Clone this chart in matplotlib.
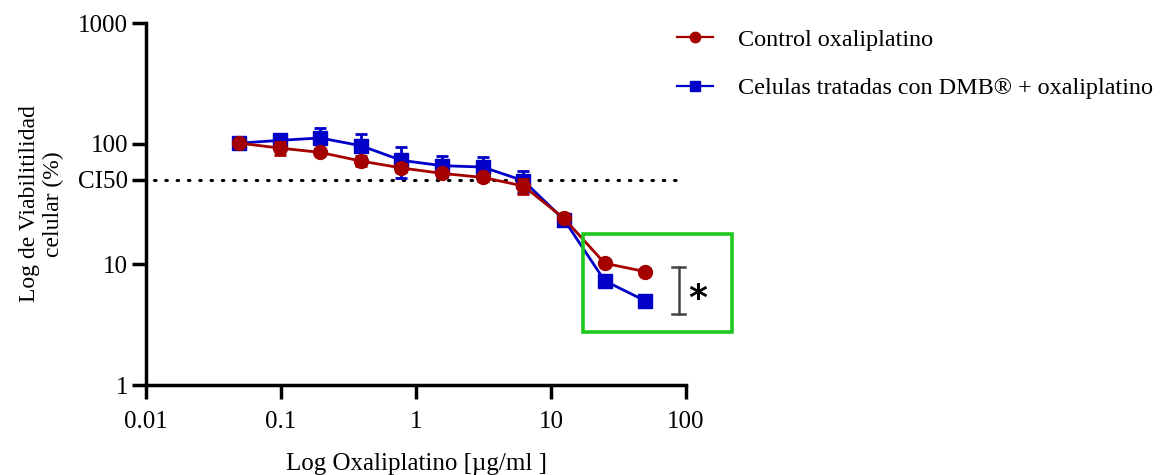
import matplotlib
matplotlib.use("Agg")
import matplotlib.pyplot as plt
from matplotlib.patches import Rectangle
from matplotlib.lines import Line2D

plt.rcParams['font.family'] = ['Liberation Serif', 'DejaVu Serif']

conc = [0.0488, 0.0977, 0.195, 0.39, 0.78, 1.56, 3.125, 6.25, 12.5, 25, 50]
control = [101, 92, 84.7, 71.8, 62.9, 56.7, 52.5, 44.6, 24.0, 10.2, 8.7]
control_err = [1, 12, 3, 7, 5, 3, 3, 6, 1, 0.4, 0.3]
dmb = [101, 106.5, 111.5, 96.2, 72.7, 65.7, 64.0, 49.3, 23.4, 7.3, 4.98]
dmb_err = [2, 1.5, 23, 24, 21, 13, 14, 10, 1, 0.3, 0.3]
ytick_vals = [1, 10, 50, 100, 1000]
ytick_labels = ['1', '10', 'CI50', '100', '1000']
xtick_vals = [0.01, 0.1, 1, 10, 100]
xtick_labels = ['0.01', '0.1', '1', '10', '100']
series_labels = ['Control oxaliplatino', 'Celulas tratadas con DMB® + oxaliplatino']

red = '#a50000'
blue = '#0000c8'
FS = 18

fig = plt.figure(figsize=(11.6, 4.75), dpi=100)
ax = fig.add_axes([146/1160, 90/475, 540/1160, 362/475])
ax.set_xscale('log')
ax.set_yscale('log')
ax.set_xlim(0.01, 100)
ax.set_ylim(1, 1000)

ax.axhline(50, xmin=0.015, xmax=0.99, color='black', lw=2.2,
           linestyle=(0, (0.5, 3.2)), dash_capstyle='round', zorder=1)

ax.errorbar(conc, dmb, yerr=dmb_err, color=blue, marker='s', markersize=9.5,
            lw=2, capsize=4.5, capthick=2, elinewidth=2, zorder=3)
ax.errorbar(conc, control, yerr=control_err, color=red, marker='o', markersize=10,
            lw=2, capsize=4.5, capthick=2, elinewidth=2, zorder=4)

for s in ['top', 'right']:
    ax.spines[s].set_visible(False)
for s in ['left', 'bottom']:
    ax.spines[s].set_linewidth(2.5)

ax.set_xticks(xtick_vals)
ax.set_xticklabels(xtick_labels)
ax.set_yticks(ytick_vals)
ax.set_yticklabels(ytick_labels)
ax.minorticks_off()
ax.tick_params(axis='both', which='major', length=10, width=2.5, labelsize=FS, pad=3)
ax.tick_params(axis='x', pad=9)

ax.set_xlabel('Log Oxaliplatino [µg/ml ]', fontsize=FS, labelpad=14)
ax.set_ylabel('Log de Viabilitilidad\ncelular (%)', fontsize=17, labelpad=10)

# highlight box
rect = Rectangle((17.3, 2.75), 219 - 17.3, 17.9 - 2.75, fill=False,
                 edgecolor='#1ec81e', lw=2.6, clip_on=False, zorder=5)
ax.add_patch(rect)

# significance bracket
ax.plot([88, 88], [3.88, 9.55], color='#444444', lw=1.8, clip_on=False, zorder=5)
ax.plot([78.7, 99], [9.55, 9.55], color='#444444', lw=1.8, clip_on=False, zorder=5)
ax.plot([78.7, 99], [3.88, 3.88], color='#444444', lw=1.8, clip_on=False, zorder=5)
ax.text(122, 5.15, '*', fontsize=26, fontweight='bold', ha='center', va='center',
        family='DejaVu Sans', clip_on=False)

handles = [Line2D([], [], color=red, marker='o', markersize=7.5, lw=1.6),
           Line2D([], [], color=blue, marker='s', markersize=7.5, lw=1.6)]
leg = fig.legend(handles, series_labels, loc='upper left',
                 bbox_to_anchor=(667/1160, 1 - 19/475),
                 frameon=False, fontsize=17.4, handlelength=1.5, handletextpad=1.05,
                 labelspacing=1.1, borderaxespad=0)

fig.savefig('out.png', dpi=100)
